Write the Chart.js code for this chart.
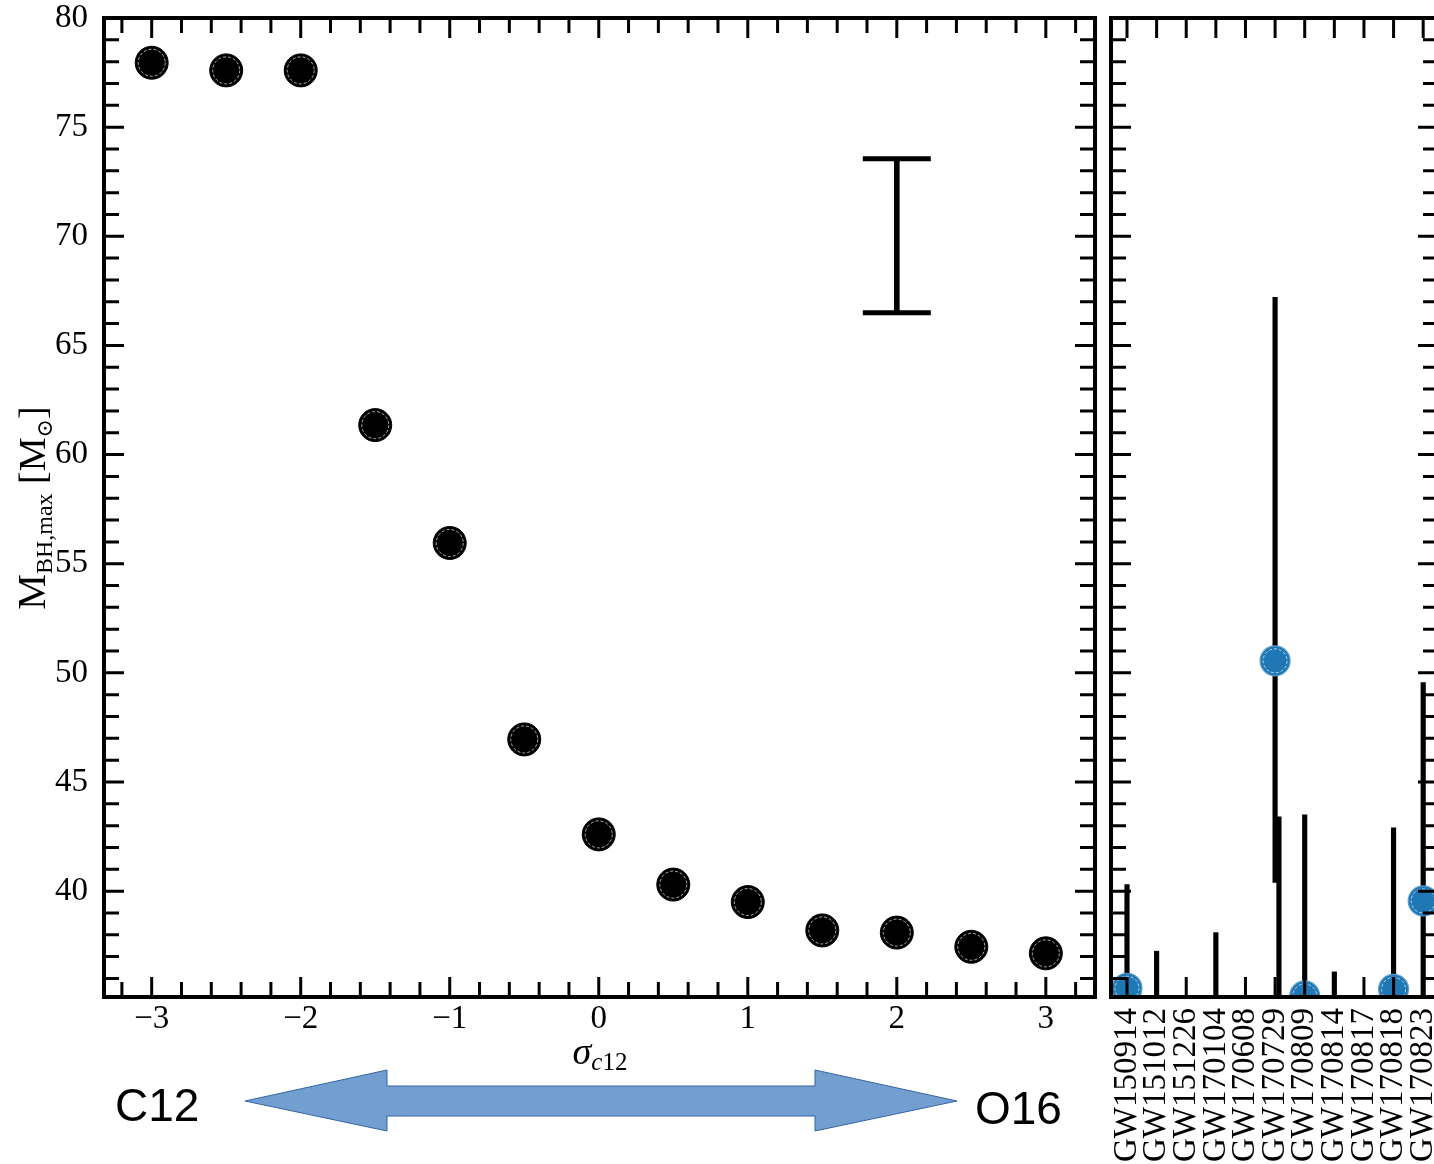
<!DOCTYPE html>
<html>
<head>
<meta charset="utf-8">
<script src="https://cdn.jsdelivr.net/npm/chart.js@4.4.0/dist/chart.umd.min.js"></script>
<style>
  html, body { margin: 0; padding: 0; background: #fff; overflow: hidden; width: 1434px; height: 1164px; }
  #left { position: absolute; left: 0; top: 0; }
  #right { position: absolute; left: 1096px; top: 0; }
</style>
</head>
<body>
<canvas id="left" width="1100" height="1164"></canvas>
<canvas id="right" width="350" height="1164"></canvas>
<script>
// left panel: max BH mass against the C12 rate offset
const sigmaValues = [-3, -2.5, -2, -1.5, -1, -0.5, 0, 0.5, 1, 1.5, 2, 2.5, 3];
const mbhMax = [77.95, 77.6, 77.6, 61.35, 55.95, 46.95, 42.6, 40.3, 39.5, 38.2, 38.1, 37.45, 37.15];
const typicalErrX = 2;
const typicalErr = [66.5, 73.55];

// right panel: observed events
const events = ['GW150914', 'GW151012', 'GW151226', 'GW170104', 'GW170608', 'GW170729',
                'GW170809', 'GW170814', 'GW170817', 'GW170818', 'GW170823'];
const eventMass = [35.55, null, null, null, null, 50.55, 35.2, null, null, 35.5, 39.55];
const eventErrLow = [35, 35, null, 35, null, 40.4, 35, 35, null, 35, 35];
const eventErrHigh = [40.3, 37.25, null, 38.1, null, 67.2, 43.5, 36.3, null, 42.9, 49.55];
const secondErrEvent = 'GW170729';
const secondErr = [35, 43.4];

const yRange = [35.15, 80];
const yMajor = [40, 45, 50, 55, 60, 65, 70, 75, 80];
const yMinor = [36, 37, 38, 39, 41, 42, 43, 44, 46, 47, 48, 49, 51, 52, 53, 54, 56, 57, 58, 59,
                61, 62, 63, 64, 66, 67, 68, 69, 71, 72, 73, 74, 76, 77, 78, 79];
const xMajor = [-3, -2, -1, 0, 1, 2, 3];
const xMinor = [-3.2, -2.8, -2.6, -2.4, -2.2, -1.8, -1.6, -1.4, -1.2, -0.8, -0.6, -0.4, -0.2,
                0.2, 0.4, 0.6, 0.8, 1.2, 1.4, 1.6, 1.8, 2.2, 2.4, 2.6, 2.8, 3.2];

const serif = 'Liberation Serif';

// inward ticks on all four sides + frame
const frameTicks = {
  id: 'frameTicks',
  afterDatasetsDraw(chart, args, opts) {
    const { ctx, chartArea: a } = chart;
    const x = chart.scales.x, y = chart.scales.y;
    ctx.save();
    ctx.strokeStyle = '#000';
    ctx.lineWidth = 3;
    ctx.beginPath();
    const xt = (vals, len) => vals.forEach(v => {
      const p = x.getPixelForValue(v);
      if (p < a.left || p > a.right) return;
      ctx.moveTo(p, a.top); ctx.lineTo(p, a.top + len);
      ctx.moveTo(p, a.bottom); ctx.lineTo(p, a.bottom - len);
    });
    const yt = (vals, len) => vals.forEach(v => {
      const p = y.getPixelForValue(v);
      if (p < a.top || p > a.bottom) return;
      ctx.moveTo(a.left, p); ctx.lineTo(a.left + len, p);
      ctx.moveTo(a.right, p); ctx.lineTo(a.right - len, p);
    });
    xt(opts.xMajor || [], 20);
    xt(opts.xMinor || [], 15);
    yt(opts.yMajor || [], 20);
    yt(opts.yMinor || [], 15);
    ctx.stroke();
    ctx.lineWidth = 4;
    ctx.strokeRect(a.left, a.top, a.right - a.left, a.bottom - a.top);
    ctx.restore();
  }
};

// thin dashed white ring inside each marker
const markerRing = {
  id: 'markerRing',
  afterDatasetsDraw(chart) {
    const { ctx, chartArea: a } = chart;
    ctx.save();
    ctx.beginPath();
    ctx.rect(a.left, a.top, a.right - a.left, a.bottom - a.top);
    ctx.clip();
    ctx.strokeStyle = 'rgba(255,255,255,0.85)';
    ctx.lineWidth = 0.8;
    ctx.setLineDash([3, 2]);
    chart.data.datasets.forEach((ds, i) => {
      const meta = chart.getDatasetMeta(i);
      if (meta.type !== 'scatter') return;
      meta.data.forEach(pt => {
        if (pt.skip) return;
        ctx.beginPath();
        ctx.arc(pt.x, pt.y, pt.options.radius - 3, 0, Math.PI * 2);
        ctx.stroke();
      });
    });
    ctx.restore();
  }
};

// caps for the typical error bar
const errCaps = {
  id: 'errCaps',
  afterDatasetsDraw(chart) {
    const { ctx } = chart;
    chart.data.datasets.forEach((ds, i) => {
      if (!ds.caps) return;
      chart.getDatasetMeta(i).data.forEach(bar => {
        ctx.save();
        ctx.strokeStyle = '#000';
        ctx.lineWidth = 5;
        ctx.beginPath();
        ctx.moveTo(bar.x - 34, bar.y); ctx.lineTo(bar.x + 34, bar.y);
        ctx.moveTo(bar.x - 34, bar.base); ctx.lineTo(bar.x + 34, bar.base);
        ctx.stroke();
        ctx.restore();
      });
    });
  }
};

function drawParts(ctx, parts, cx, baseY) {
  let w = 0;
  parts.forEach(p => { ctx.font = p.font; w += ctx.measureText(p.t).width; });
  let cur = cx - w / 2;
  parts.forEach(p => {
    ctx.font = p.font;
    ctx.fillText(p.t, cur, baseY + (p.dy || 0));
    cur += ctx.measureText(p.t).width;
  });
}

// axis titles and the C12 / O16 arrow
const decorations = {
  id: 'decorations',
  afterDraw(chart) {
    const { ctx } = chart;
    ctx.save();
    ctx.fillStyle = '#000';
    ctx.textBaseline = 'alphabetic';
    ctx.textAlign = 'left';

    ctx.save();
    ctx.translate(45, 508);
    ctx.rotate(-Math.PI / 2);
    drawParts(ctx, [
      { t: 'M', font: '40px ' + serif },
      { t: 'BH,max', font: '24px ' + serif, dy: 7 },
      { t: ' [M', font: '38px ' + serif },
      { t: '\u2299', font: '22px "DejaVu Serif"', dy: 7 },
      { t: ']', font: '38px ' + serif }
    ], 0, 0);
    ctx.restore();

    drawParts(ctx, [
      { t: '\u03c3', font: 'italic 38px ' + serif },
      { t: 'c', font: 'italic 25px ' + serif, dy: 6 },
      { t: '12', font: '25px ' + serif, dy: 6 }
    ], 600, 1064);

    ctx.font = '46px "Liberation Sans"';
    ctx.textBaseline = 'middle';
    ctx.fillText('C12', 115, 1108);
    ctx.fillText('O16', 975, 1111);

    ctx.beginPath();
    ctx.moveTo(245, 1101);
    ctx.lineTo(387, 1070); ctx.lineTo(387, 1086);
    ctx.lineTo(815, 1086); ctx.lineTo(815, 1070);
    ctx.lineTo(957, 1101);
    ctx.lineTo(815, 1131); ctx.lineTo(815, 1116);
    ctx.lineTo(387, 1116); ctx.lineTo(387, 1131);
    ctx.closePath();
    ctx.fillStyle = '#729fcf';
    ctx.fill();
    ctx.strokeStyle = '#3465a4';
    ctx.lineWidth = 1;
    ctx.stroke();
    ctx.restore();
  }
};

const minus = v => (v < 0 ? '\u2212' + Math.abs(v) : String(v));

new Chart(document.getElementById('left'), {
  type: 'scatter',
  data: {
    datasets: [{
      data: sigmaValues.map((s, i) => ({ x: s, y: mbhMax[i] })),
      backgroundColor: '#000',
      borderColor: '#000',
      borderWidth: 1,
      pointRadius: 16.5,
      order: 0
    }, {
      type: 'bar',
      data: [{ x: typicalErrX, y: typicalErr }],
      backgroundColor: '#000',
      barThickness: 5,
      grouped: false,
      caps: true,
      order: 1
    }]
  },
  options: {
    responsive: false,
    animation: false,
    events: [],
    layout: { autoPadding: false, padding: { top: 18, right: 5, left: 0, bottom: 0 } },
    plugins: {
      legend: { display: false },
      tooltip: { enabled: false },
      frameTicks: { xMajor, xMinor, yMajor, yMinor }
    },
    scales: {
      x: {
        type: 'linear', min: -3.32, max: 3.33, offset: false,
        grid: { display: false }, border: { display: false },
        afterBuildTicks: s => { s.ticks = xMajor.map(v => ({ value: v })); },
        afterFit: s => { s.height = 167; s.paddingLeft = 0; s.paddingRight = 0; },
        ticks: { color: '#000', padding: -5, font: { family: serif, size: 33 }, callback: v => minus(v) }
      },
      y: {
        min: yRange[0], max: yRange[1],
        grid: { display: false }, border: { display: false },
        afterBuildTicks: s => { s.ticks = yMajor.map(v => ({ value: v })); },
        afterFit: s => { s.width = 104; s.paddingTop = 0; s.paddingBottom = 0; },
        ticks: { color: '#000', padding: 8, font: { family: serif, size: 33 } }
      }
    }
  },
  plugins: [markerRing, errCaps, frameTicks, decorations]
});

const eventIdx = events.map((e, i) => i);

new Chart(document.getElementById('right'), {
  type: 'scatter',
  data: {
    datasets: [{
      data: eventIdx.filter(i => eventMass[i] !== null).map(i => ({ x: i, y: eventMass[i] })),
      backgroundColor: '#1f77b4',
      borderColor: '#5b9fd0',
      borderWidth: 1.2,
      pointRadius: 15,
      order: 0
    }, {
      type: 'bar',
      data: eventIdx.filter(i => eventErrHigh[i] !== null).map(i => ({ x: i, y: [eventErrLow[i], eventErrHigh[i]] })),
      backgroundColor: '#000',
      barThickness: 4.5,
      grouped: false,
      order: 1
    }, {
      type: 'bar',
      data: [{ x: events.indexOf(secondErrEvent) + 0.13, y: secondErr }],
      backgroundColor: '#000',
      barThickness: 4.5,
      grouped: false,
      order: 2
    }]
  },
  options: {
    responsive: false,
    animation: false,
    events: [],
    layout: { autoPadding: false, padding: { top: 18, right: 8, left: 15, bottom: 0 } },
    plugins: {
      legend: { display: false },
      tooltip: { enabled: false },
      frameTicks: { xMajor: eventIdx, yMajor, yMinor }
    },
    scales: {
      x: {
        type: 'linear', min: -0.54, max: 10.5, offset: false,
        grid: { display: false }, border: { display: false },
        afterBuildTicks: s => { s.ticks = eventIdx.map(v => ({ value: v })); },
        afterFit: s => { s.height = 167; s.paddingLeft = 0; s.paddingRight = 0; },
        ticks: {
          color: '#000', padding: 3, autoSkip: false, minRotation: 90, maxRotation: 90,
          font: { family: serif, size: 33 }, callback: v => events[v]
        }
      },
      y: { display: false, min: yRange[0], max: yRange[1] }
    }
  },
  plugins: [markerRing, frameTicks]
});
</script>
</body>
</html>
